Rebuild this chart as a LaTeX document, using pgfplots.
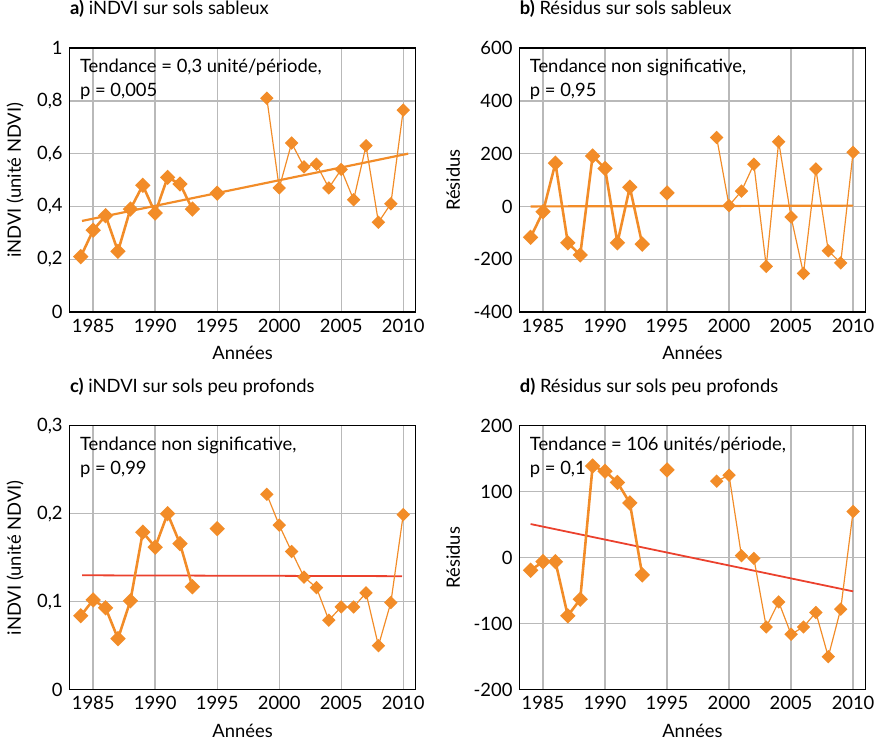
\documentclass[border=0pt]{standalone}
\usepackage{fontspec}
\setmainfont{Lato}
\usepackage{pgfplots}
\pgfplotsset{compat=1.18}
\definecolor{orng}{RGB}{242,140,40}
\definecolor{trendred}{RGB}{235,65,45}
\definecolor{gridgray}{RGB}{185,185,185}
\newcommand\fs{\fontsize{9.3}{12}\selectfont}

\tikzset{note/.style={anchor=base west, inner sep=0pt, font=\fs}}
\pgfplotsset{
  panel/.style={
    scale only axis, width=175pt, height=133.5pt,
    xmin=1983.1, xmax=2011, xtick={1985,1990,...,2010},
    grid=major, major grid style={gridgray, line width=0.7pt},
    major tick length=0pt,
    axis line style={black, line width=0.6pt},
    tick label style={font=\fs},
    label style={font=\fs},
    xlabel=Années,
    /pgf/number format/assume math mode=true,
    /pgf/number format/use comma,
    /pgf/number format/1000 sep={},
    title style={at={(0,1)}, anchor=base west, yshift=11pt, inner sep=0pt, font=\fs},
  },
  seg/.style={orng, mark=square*, mark size=2.1pt, mark options={rotate=45, solid, fill=orng}},
  thickseg/.style={seg, line width=1.3pt},
  thinseg/.style={seg, line width=0.6pt},
}

\begin{document}
\begin{tikzpicture}

% a) iNDVI sur sols sableux
\begin{axis}[panel, at={(0pt,0pt)},
    ymin=0, ymax=1, ytick={0,0.2,...,1},
    ylabel={iNDVI (unité NDVI)},
    title={\textbf{a)} iNDVI sur sols sableux}]
  \addplot[orng, line width=1.1pt] coordinates {(1984.1,0.345) (2010.4,0.60)};
  \addplot[thickseg] coordinates {
    (1984,0.21) (1985,0.31) (1986,0.365) (1987,0.23) (1988,0.39)
    (1989,0.48) (1990,0.375) (1991,0.51) (1992,0.485) (1993,0.39)};
  \addplot[thickseg] coordinates {(1995,0.45)};
  \addplot[thinseg] coordinates {
    (1999,0.81) (2000,0.47) (2001,0.64) (2002,0.55) (2003,0.56) (2004,0.47)
    (2005,0.54) (2006,0.425) (2007,0.63) (2008,0.34) (2009,0.41) (2010,0.765)};
  \node[note] at (rel axis cs:0.029,1) [yshift=-12.5pt] {Tendance = 0,3 unité/période,};
  \node[note] at (rel axis cs:0.029,1) [yshift=-24.5pt] {p = 0,005};
\end{axis}

% b) Residus sur sols sableux
\begin{axis}[panel, at={(227.5pt,0pt)},
    ymin=-400, ymax=600, ytick={-400,-200,...,600},
    ylabel={Résidus},
    title={\textbf{b)} Résidus sur sols sableux}]
  \addplot[orng, line width=1.1pt] coordinates {(1984,0) (2010,3)};
  \addplot[thickseg] coordinates {
    (1984,-117) (1985,-20) (1986,164) (1987,-138) (1988,-184)
    (1989,191) (1990,144) (1991,-138) (1992,73) (1993,-143)};
  \addplot[thickseg] coordinates {(1995,51)};
  \addplot[thinseg] coordinates {
    (1999,261) (2000,3) (2001,58) (2002,160) (2003,-227) (2004,245)
    (2005,-40) (2006,-254) (2007,142) (2008,-168) (2009,-214) (2010,205)};
  \node[note] at (rel axis cs:0.029,1) [yshift=-12.5pt] {Tendance non significative,};
  \node[note] at (rel axis cs:0.029,1) [yshift=-24.5pt] {p = 0,95};
\end{axis}

% c) iNDVI sur sols peu profonds
\begin{axis}[panel, at={(0pt,-191pt)},
    ymin=0, ymax=0.3, ytick={0,0.1,0.2,0.3},
    ylabel={iNDVI (unité NDVI)},
    title={\textbf{c)} iNDVI sur sols peu profonds}]
  \addplot[trendred, line width=0.9pt] coordinates {(1984.1,0.130) (2009.9,0.129)};
  \addplot[thickseg] coordinates {
    (1984,0.084) (1985,0.102) (1986,0.093) (1987,0.058) (1988,0.101)
    (1989,0.179) (1990,0.162) (1991,0.200) (1992,0.166) (1993,0.117)};
  \addplot[thickseg] coordinates {(1995,0.183)};
  \addplot[thinseg] coordinates {
    (1999,0.222) (2000,0.187) (2001,0.157) (2002,0.128) (2003,0.116) (2004,0.079)
    (2005,0.094) (2006,0.094) (2007,0.110) (2008,0.050) (2009,0.099) (2010,0.199)};
  \node[note] at (rel axis cs:0.029,1) [yshift=-12.5pt] {Tendance non significative,};
  \node[note] at (rel axis cs:0.029,1) [yshift=-24.5pt] {p = 0,99};
\end{axis}

% d) Residus sur sols peu profonds
\begin{axis}[panel, at={(227.5pt,-191pt)},
    ymin=-200, ymax=200, ytick={-200,-100,...,200},
    ylabel={Résidus},
    title={\textbf{d)} Résidus sur sols peu profonds}]
  \addplot[trendred, line width=0.9pt] coordinates {(1984,51) (2010,-51)};
  \addplot[thickseg] coordinates {
    (1984,-19) (1985,-6) (1986,-6) (1987,-88) (1988,-63)
    (1989,139) (1990,131) (1991,114) (1992,83) (1993,-26)};
  \addplot[thickseg] coordinates {(1995,133)};
  \addplot[thinseg] coordinates {
    (1999,116) (2000,125) (2001,3) (2002,-1) (2003,-105) (2004,-67)
    (2005,-116) (2006,-105) (2007,-83) (2008,-150) (2009,-78) (2010,70)};
  \node[note] at (rel axis cs:0.029,1) [yshift=-12.5pt] {Tendance = 106 unités/période,};
  \node[note] at (rel axis cs:0.029,1) [yshift=-24.5pt] {p = 0,1};
\end{axis}

\end{tikzpicture}
\end{document}
